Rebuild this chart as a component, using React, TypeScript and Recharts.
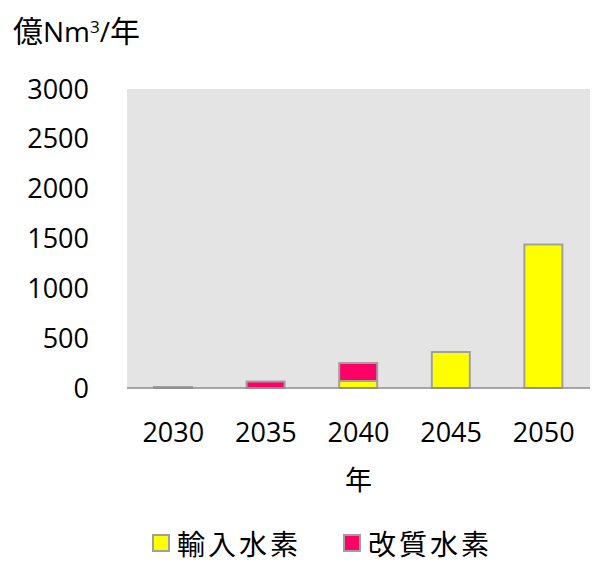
import React from 'react';
import { BarChart, Bar, XAxis, YAxis, CartesianGrid, Legend } from 'recharts';

const years = ['2030', '2035', '2040', '2045', '2050'];
const importedH2 = [0, 0, 70, 360, 1440];
const reformedH2 = [10, 65, 180, 0, 0];
const yTicks = [0, 500, 1000, 1500, 2000, 2500, 3000];
const edgeTicks = [0, 1, 2, 3, 4, 5];

const seriesNames = { imported: '輸入水素', reformed: '改質水素' };
const seriesColors = { imported: '#ffff00', reformed: '#ff0066' };

const data = years.map((year, i) => ({
  year,
  imported: importedH2[i],
  reformed: reformedH2[i],
}));

const FONT = '"Open Sans", "Noto Sans CJK JP", sans-serif';
const CJK_FONT = '"Noto Sans CJK JP", sans-serif';
const AXIS_GREY = '#8c8c8c';

function LegendContent() {
  const items = [
    { key: 'imported', label: seriesNames.imported, color: seriesColors.imported },
    { key: 'reformed', label: seriesNames.reformed, color: seriesColors.reformed },
  ];
  return (
    <div
      style={{
        display: 'flex',
        alignItems: 'center',
        boxSizing: 'border-box',
        width: 590,
        height: 66,
        paddingTop: 34,
        paddingLeft: 152,
        fontFamily: CJK_FONT,
        fontSize: 28,
        lineHeight: '32px',
        letterSpacing: 3,
        color: '#000',
      }}
    >
      {items.map((it, i) => (
        <div key={it.key} style={{ display: 'flex', alignItems: 'center', marginLeft: i ? 42 : 0 }}>
          <span
            style={{
              display: 'inline-block',
              width: 14,
              height: 14,
              background: it.color,
              border: '2px solid #a0a0a0',
              marginRight: 7,
            }}
          />
          <span>{it.label}</span>
        </div>
      ))}
    </div>
  );
}

export default function App() {
  return (
    <div style={{ position: 'absolute', left: 0, top: 0, width: 595, height: 563, background: '#fff' }}>
      <div
        style={{
          position: 'absolute',
          left: 13,
          top: 8,
          fontFamily: FONT,
          fontSize: 28,
          lineHeight: '38px',
          color: '#000',
          whiteSpace: 'nowrap',
        }}
      >
        <span style={{ fontFamily: CJK_FONT, fontSize: 30 }}>億</span>Nm
        <sup style={{ fontSize: 17, verticalAlign: 9 }}>3</sup>/
        <span style={{ fontFamily: CJK_FONT, fontSize: 30 }}>年</span>
      </div>
      <BarChart
        width={595}
        height={563}
        data={data}
        margin={{ top: 89, right: 5, left: 0, bottom: 0 }}
        barSize={38}
      >
        <CartesianGrid fill="#e4e4e4" horizontal={false} vertical={false} />
        {/* axis line with ticks on the category boundaries */}
        <XAxis
          xAxisId="a"
          type="number"
          domain={[0, 5]}
          allowDataOverflow
          ticks={edgeTicks}
          tick={false}
          height={10}
          tickSize={10}
          axisLine={{ stroke: AXIS_GREY, strokeWidth: 1.5 }}
          tickLine={{ stroke: AXIS_GREY, strokeWidth: 1.5 }}
        />
        <XAxis
          xAxisId="b"
          dataKey="year"
          height={95}
          axisLine={false}
          tickLine={false}
          tickSize={0}
          tickMargin={25}
          tick={{ fill: '#000', fontSize: 27, fontFamily: FONT }}
          label={{
            value: '年',
            position: 'insideBottom',
            offset: 3,
            fill: '#000',
            fontSize: 27,
            fontFamily: CJK_FONT,
          }}
        />
        <YAxis
          domain={[0, 3000]}
          ticks={yTicks}
          width={127}
          axisLine={false}
          tickLine={false}
          tickSize={0}
          tickMargin={38}
          tick={{ fill: '#000', fontSize: 27, fontFamily: FONT }}
        />
        <Legend verticalAlign="bottom" height={70} content={<LegendContent />} />
        <Bar
          xAxisId="b"
          dataKey="imported"
          name={seriesNames.imported}
          stackId="h2"
          fill={seriesColors.imported}
          stroke="#a0a0a0"
          strokeWidth={2}
          isAnimationActive={false}
        />
        <Bar
          xAxisId="b"
          dataKey="reformed"
          name={seriesNames.reformed}
          stackId="h2"
          fill={seriesColors.reformed}
          stroke="#a0a0a0"
          strokeWidth={2}
          isAnimationActive={false}
        />
      </BarChart>
    </div>
  );
}
